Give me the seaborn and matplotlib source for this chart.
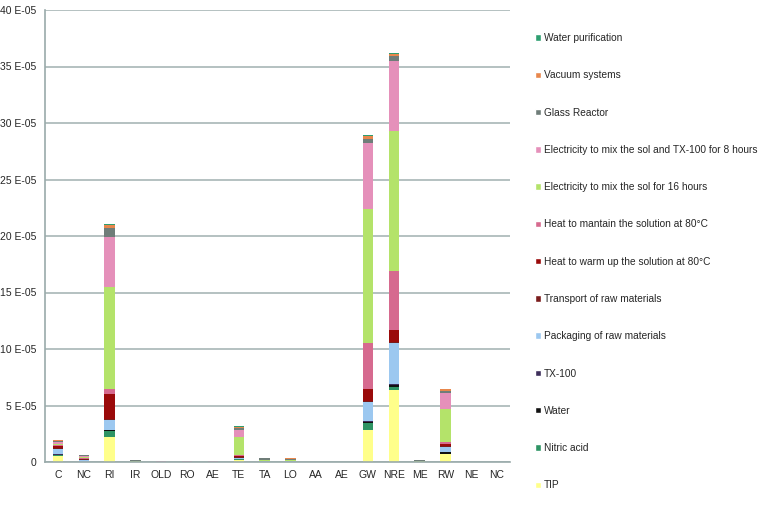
import numpy as np
import pandas as pd
import matplotlib
matplotlib.use("Agg")
import matplotlib.pyplot as plt
import seaborn as sns
from matplotlib.patches import Patch

# categories (two labels repeat in the original chart)
categories = ["C", "NC", "RI", "IR", "OLD", "RO", "AE", "TE", "TA", "LO",
              "AA", "AE", "GW", "NRE", "ME", "RW", "NE", "NC"]

# stack order, bottom to top
series = ["TIP", "Nitric acid", "Water", "TX-100", "Packaging of raw materials",
          "Transport of raw materials", "Heat to warm up the solution at 80°C",
          "Heat to mantain the solution at 80°C", "Electricity to mix the sol for 16 hours",
          "Electricity to mix the sol and TX-100 for 8 hours", "Glass Reactor",
          "Vacuum systems", "Water purification"]

# values in E-05 units
tip        = [0.50, 0.00, 2.20, 0.00, 0.00, 0.00, 0.00, 0.20, 0.00, 0.00, 0, 0, 2.83, 6.36, 0.00, 0.70, 0, 0]
nitric     = [0.08, 0.02, 0.50, 0.00, 0.00, 0.00, 0.00, 0.05, 0.02, 0.02, 0, 0, 0.64, 0.28, 0.00, 0.05, 0, 0]
water      = [0.05, 0.00, 0.10, 0.00, 0.00, 0.00, 0.00, 0.02, 0.00, 0.00, 0, 0, 0.10, 0.15, 0.00, 0.10, 0, 0]
tx100      = [0.05, 0.00, 0.05, 0.00, 0.00, 0.00, 0.00, 0.02, 0.00, 0.00, 0, 0, 0.10, 0.15, 0.00, 0.05, 0, 0]
packaging  = [0.50, 0.20, 0.90, 0.02, 0.01, 0.01, 0.01, 0.10, 0.03, 0.03, 0, 0, 1.60, 3.62, 0.02, 0.45, 0, 0]
transport  = [0.05, 0.02, 0.05, 0.00, 0.00, 0.00, 0.00, 0.02, 0.00, 0.00, 0, 0, 0.10, 0.10, 0.00, 0.05, 0, 0]
heat_warm  = [0.15, 0.05, 2.20, 0.00, 0.00, 0.00, 0.00, 0.10, 0.02, 0.02, 0, 0, 1.10, 1.06, 0.00, 0.20, 0, 0]
heat_keep  = [0.10, 0.05, 0.50, 0.02, 0.01, 0.01, 0.01, 0.10, 0.05, 0.04, 0, 0, 4.05, 5.14, 0.02, 0.20, 0, 0]
elec_16h   = [0.15, 0.10, 9.00, 0.03, 0.02, 0.02, 0.02, 1.60, 0.06, 0.05, 0, 0, 11.85, 12.45, 0.03, 2.90, 0, 0]
elec_8h    = [0.10, 0.05, 4.40, 0.02, 0.01, 0.01, 0.01, 0.65, 0.04, 0.04, 0, 0, 5.85, 6.20, 0.02, 1.40, 0, 0]
glass      = [0.15, 0.15, 0.80, 0.06, 0.04, 0.04, 0.04, 0.15, 0.12, 0.10, 0, 0, 0.40, 0.40, 0.06, 0.20, 0, 0]
vacuum     = [0.05, 0.02, 0.30, 0.00, 0.00, 0.00, 0.00, 0.10, 0.02, 0.02, 0, 0, 0.25, 0.20, 0.00, 0.15, 0, 0]
water_pur  = [0.02, 0.00, 0.10, 0.00, 0.00, 0.00, 0.00, 0.05, 0.01, 0.01, 0, 0, 0.10, 0.10, 0.00, 0.05, 0, 0]

colors = ["#FFFF8A", "#2E9464", "#111111", "#3E2F5B", "#9CC8F0", "#7A1C1C",
          "#9A0A0A", "#D66A8F", "#B4E36A", "#E590BA", "#6F7D79", "#E8874C", "#2E9E70"]

yticks = [0, 5, 10, 15, 20, 25, 30, 35, 40]
ytick_labels = ["0"] + [f"{v} E-05" for v in yticks[1:]]

values = [tip, nitric, water, tx100, packaging, transport, heat_warm, heat_keep,
          elec_16h, elec_8h, glass, vacuum, water_pur]

sns.set_theme(style="white")
plt.rcParams["font.family"] = ["Liberation Sans", "DejaVu Sans"]

fig = plt.figure(figsize=(7.61, 5.08), dpi=100)
ax = fig.add_axes([45 / 761, 46 / 508, 465 / 761, 452 / 508])

ids = [f"{c}_{i}" for i, c in enumerate(categories)]
bottom = np.zeros(len(categories))
for name, vals, col in zip(series, values, colors):
    df = pd.DataFrame({"id": ids, "v": vals})
    sns.barplot(data=df, x="id", y="v", color=col, width=0.4, bottom=bottom,
                saturation=1, ax=ax, linewidth=0, errorbar=None)
    bottom = bottom + np.array(vals)

ax.set_ylim(0, 40)
ax.set_xlim(-0.5, len(categories) - 0.5)
ax.set_yticks(yticks)
ax.set_yticklabels(ytick_labels, fontsize=7.5)
ax.set_xticks(range(len(categories)))
ax.set_xticklabels(categories, fontsize=7.5)
ax.set_xticks(np.arange(-0.5, len(categories), 1), minor=True)
ax.tick_params(axis="x", which="major", length=0, pad=6)
ax.tick_params(axis="x", which="minor", length=4, color="#9AAAAA", width=1)
ax.tick_params(axis="y", length=4, color="#9AAAAA", width=1, pad=2)
ax.set_xlabel("")
ax.set_ylabel("")
ax.yaxis.grid(True, color="#A8B6B6", linewidth=1.2)
ax.set_axisbelow(True)
for s in ["top", "right"]:
    ax.spines[s].set_visible(False)
for s in ["left", "bottom"]:
    ax.spines[s].set_color("#9AAAAA")
    ax.spines[s].set_linewidth(1.2)

handles = [Patch(facecolor=c, label=n) for n, c in zip(series, colors)][::-1]
fig.legend(handles=handles, loc="upper left", bbox_to_anchor=(531 / 761, 1 - 29 / 508),
           frameon=False, fontsize=7.3, handlelength=0.6, handleheight=0.6,
           handletextpad=0.3, labelspacing=2.69, borderaxespad=0)

fig.savefig("out.png", dpi=100, facecolor="white")
